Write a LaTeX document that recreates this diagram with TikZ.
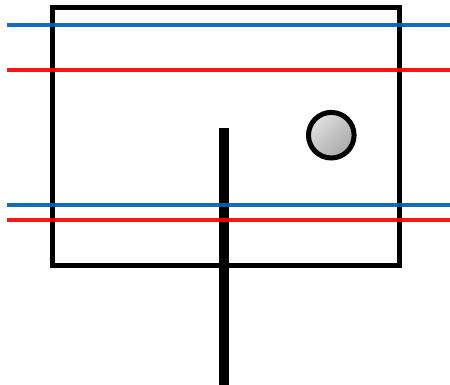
\documentclass[tikz,border=0pt]{standalone}
\definecolor{lblue}{RGB}{0,96,185}
\definecolor{lred}{RGB}{255,0,0}
\tikzset{
  wire/.style={line width=4pt, draw opacity=0.92},
  frame/.style={draw=black, line width=5pt},
  rod/.style={draw=black, line width=10pt},
}
\begin{document}
\begin{tikzpicture}[x=1pt,y=-1pt]
\useasboundingbox (0,0) rectangle (450,385);
% frame
\draw[frame] (52,8) rectangle (399.5,265);
% rod
\coordinate (rodtop) at (223.7,127.7);
\coordinate (rodbot) at (223.7,386);
\draw[rod] (rodtop) -- (rodbot);
% ball
\shade[top color=white!88!black, bottom color=white!66!black, shading angle=45]
  (331.3,135.2) circle (22.8);
\draw[line width=5pt] (331.3,135.2) circle (22.8);
% colored lines (on top)
\coordinate (b1l) at (7,25);   \coordinate (b1r) at (450,25);
\coordinate (r1l) at (7,70);   \coordinate (r1r) at (450,70);
\coordinate (b2l) at (7,205);  \coordinate (b2r) at (450,205);
\coordinate (r2l) at (7,220);  \coordinate (r2r) at (450,220);
\draw[wire, lblue] (b1l) -- (b1r);
\draw[wire, lred] (r1l) -- (r1r);
\draw[wire, lblue] (b2l) -- (b2r);
\draw[wire, lred] (r2l) -- (r2r);
\end{tikzpicture}
\end{document}
